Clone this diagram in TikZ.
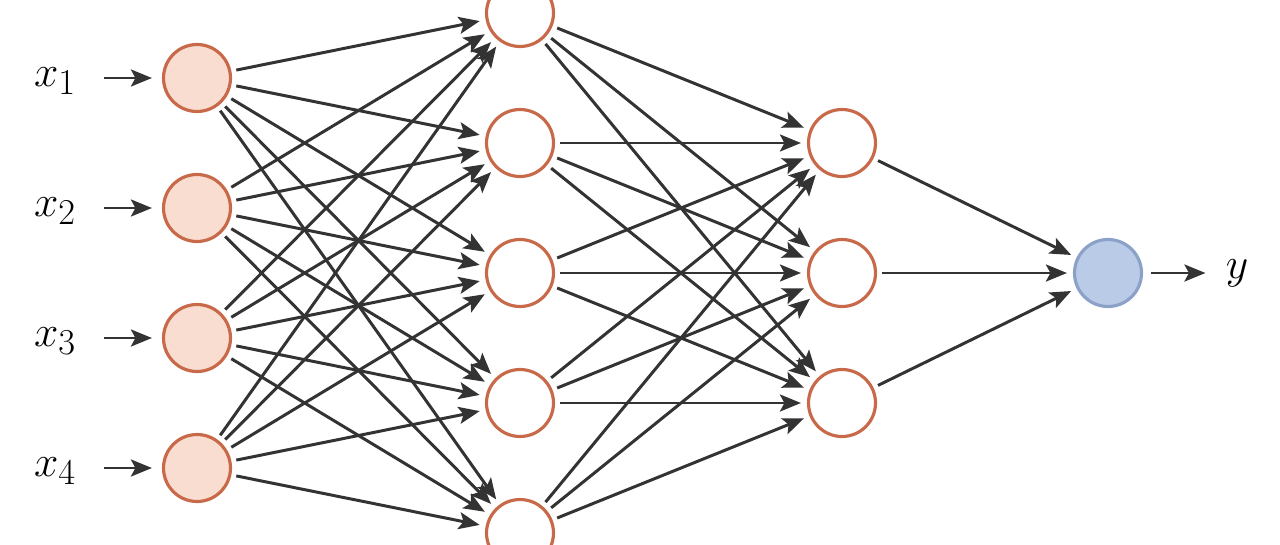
\documentclass[tikz,border=0pt]{standalone}
\usepackage{tikz}
\usetikzlibrary{arrows.meta,positioning}
\usepackage{xcolor}
\definecolor{neuronedge}{HTML}{C8694A}
\definecolor{neuronfill}{HTML}{F9DDD1}
\definecolor{outedge}{HTML}{8BA1C7}
\definecolor{outfill}{HTML}{BACBE8}
\definecolor{dark}{HTML}{333333}
\tikzset{
  neuron/.style={circle, draw=neuronedge, line width=1.8pt, minimum size=1.34cm, inner sep=0pt, fill=white},
  inneuron/.style={neuron, fill=neuronfill},
  outneuron/.style={neuron, draw=outedge, fill=outfill},
  lbl/.style={font=\fontsize{29}{34}\selectfont, inner sep=1mm},
  arrow/.style={-{Stealth[length=4.2mm, width=3.4mm, inset=0.9mm]}, line width=1.7pt, draw=dark, shorten <=1mm, shorten >=1.2mm}
}
\begin{document}
\begin{tikzpicture}[x=0.02cm, y=-0.02cm]
  \useasboundingbox (0,0) rectangle (1280,544);

  % input layer
  \foreach \i/\y in {1/78, 2/208, 3/338, 4/468} {
    \node[inneuron] (in\i) at (197,\y) {};
    \node[lbl] (lx\i) at (55,\y+3) {$x_\i$};
  }

  % first hidden layer
  \foreach \i/\y in {1/13, 2/143, 3/273, 4/403, 5/533}
    \node[neuron] (ha\i) at (520,\y) {};

  % second hidden layer
  \foreach \i/\y in {1/143, 2/273, 3/403}
    \node[neuron] (hb\i) at (842,\y) {};

  % output layer
  \node[outneuron] (out) at (1108,273) {};
  \node[lbl] (ly) at (1237,273) {$y$};

  % input arrows
  \foreach \i in {1,...,4}
    \draw[arrow, shorten <=4.5mm, shorten >=2mm] (lx\i.east |- in\i.west) -- (in\i.west);
  \draw[arrow, shorten <=1.5mm, shorten >=3mm] (out.east) -- (ly.west |- out.east);

  % fully connected edges
  \foreach \i in {1,...,4}
    \foreach \j in {1,...,5}
      \draw[arrow] (in\i) -- (ha\j);
  \foreach \i in {1,...,5}
    \foreach \j in {1,...,3}
      \draw[arrow] (ha\i) -- (hb\j);
  \foreach \i in {1,...,3}
    \draw[arrow] (hb\i) -- (out);
\end{tikzpicture}
\end{document}
